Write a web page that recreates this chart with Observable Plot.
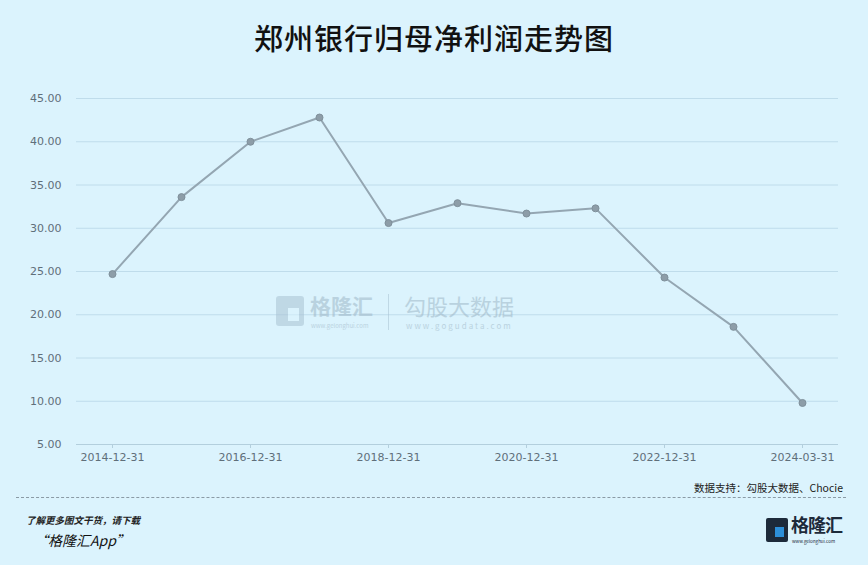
<!DOCTYPE html>
<html>
<head>
<meta charset="utf-8">
<script src="https://cdn.jsdelivr.net/npm/d3@7"></script>
<script src="https://cdn.jsdelivr.net/npm/@observablehq/plot@0.6"></script>
<style>
  html, body { margin: 0; padding: 0; background: #dbf3fd; }
  body { width: 868px; height: 565px; position: relative; overflow: hidden; font-family: "Noto Sans CJK SC", "Noto Sans", sans-serif; }
  #title { position: absolute; left: 0; top: 18px; width: 868px; text-align: center; font-size: 29px; line-height: 38px; font-weight: 500; color: #111; letter-spacing: 1px; }
  #chart { position: absolute; left: 0; top: 70px; }
  #source { position: absolute; right: 25px; top: 480px; font-size: 10.5px; color: #222; }
  #dash { position: absolute; left: 16px; top: 497px; width: 830px; border-top: 1px dashed #8a9aa5; }
  #promo1 { position: absolute; left: 26px; top: 513px; font-size: 9.5px; font-style: italic; font-weight: 700; color: #222; }
  #promo2 { position: absolute; left: 34px; top: 530px; font-size: 14px; font-style: italic; color: #111; }
  #logo { position: absolute; left: 766px; top: 515px; width: 80px; height: 32px; line-height: 1; }
  #logo .box { position: absolute; left: 0; top: 3px; width: 22px; height: 24px; background: #1d2a3a; border-radius: 2px; }
  #logo .box i { position: absolute; left: 9px; top: 9px; width: 9px; height: 10px; background: #2d8fd8; }
  #logo .t { position: absolute; left: 25px; top: 0px; font-size: 18px; line-height: 18px; height: 18px; font-weight: 700; color: #1d2a3a; letter-spacing: -1px; }
  #logo .u { position: absolute; left: 26px; top: 24px; font-size: 4.5px; line-height: 5px; color: #1d2a3a; }
  #wm { position: absolute; left: 276px; top: 292px; height: 40px; opacity: 0.55; color: #9fb8c8; line-height: 1; }
  #wm .box { position: absolute; left: 0; top: 4px; width: 28px; height: 30px; background: #a9c3d3; border-radius: 3px; }
  #wm .box i { position: absolute; left: 12px; top: 12px; width: 11px; height: 13px; background: #dbf3fd; }
  #wm .t1 { position: absolute; left: 34px; top: 3px; font-size: 21px; line-height: 21px; height: 21px; font-weight: 700; white-space: nowrap; }
  #wm .u1 { position: absolute; left: 35px; top: 31px; font-size: 6px; line-height: 6px; white-space: nowrap; }
  #wm .bar { position: absolute; left: 112px; top: 2px; width: 1px; height: 36px; background: #a9c3d3; }
  #wm .t2 { position: absolute; left: 128px; top: 2px; font-size: 22px; line-height: 22px; height: 22px; white-space: nowrap; }
  #wm .u2 { position: absolute; left: 130px; top: 30px; font-size: 8px; line-height: 8px; letter-spacing: 2px; white-space: nowrap; }
</style>
</head>
<body>
<div id="title">郑州银行归母净利润走势图</div>
<div id="chart"></div>
<div id="wm"><div class="box"><i></i></div><div class="t1">格隆汇</div><div class="u1">www.gelonghui.com</div><div class="bar"></div><div class="t2">勾股大数据</div><div class="u2">www.gogudata.com</div></div>
<div id="source">数据支持：勾股大数据、Chocie</div>
<div id="dash"></div>
<div id="promo1">了解更多图文干货，请下载</div>
<div id="promo2">“格隆汇App”</div>
<div id="logo"><div class="box"><i></i></div><div class="t">格隆汇</div><div class="u">www.gelonghui.com</div></div>
<script>
const dates = ["2014-12-31","2015-12-31","2016-12-31","2017-12-31","2018-12-31","2019-12-31","2020-12-31","2021-12-31","2022-12-31","2023-12-31","2024-03-31"];
const profits = [24.7, 33.6, 40.0, 42.8, 30.6, 32.9, 31.7, 32.3, 24.3, 18.6, 9.8];
const xTicks = ["2014-12-31","2016-12-31","2018-12-31","2020-12-31","2022-12-31","2024-03-31"];
const yTicks = [5, 10, 15, 20, 25, 30, 35, 40, 45];

const data = dates.map((d, i) => ({date: d, value: profits[i]}));

const chart = Plot.plot({
  width: 868,
  height: 410,
  marginLeft: 76,
  marginRight: 30,
  marginTop: 28,
  marginBottom: 36,
  style: {background: "transparent", fontFamily: "'DejaVu Sans', sans-serif", fontSize: "11px", color: "#5f6f7a"},
  x: {type: "point", domain: dates, padding: 0.5},
  y: {domain: [5, 45]},
  marks: [
    Plot.gridY(yTicks.filter(t => t > 5), {stroke: "#bfdceb", strokeOpacity: 1, strokeWidth: 1}),
    Plot.ruleY([5], {stroke: "#b3cfdd", strokeWidth: 1}),
    Plot.axisY(yTicks, {tickSize: 0, tickPadding: 15, tickFormat: d => d.toFixed(2), label: null, fill: "#5f6f7a"}),
    Plot.axisX(xTicks, {tickSize: 4, tickPadding: 5, label: null, stroke: "#b3cfdd", fill: "#5f6f7a"}),
    Plot.line(data, {x: "date", y: "value", stroke: "#94a6b2", strokeWidth: 2}),
    Plot.dot(data, {x: "date", y: "value", r: 3.5, fill: "#8d9da8", stroke: "#7f909b", strokeWidth: 1})
  ]
});
document.getElementById("chart").appendChild(chart);
</script>
</body>
</html>
